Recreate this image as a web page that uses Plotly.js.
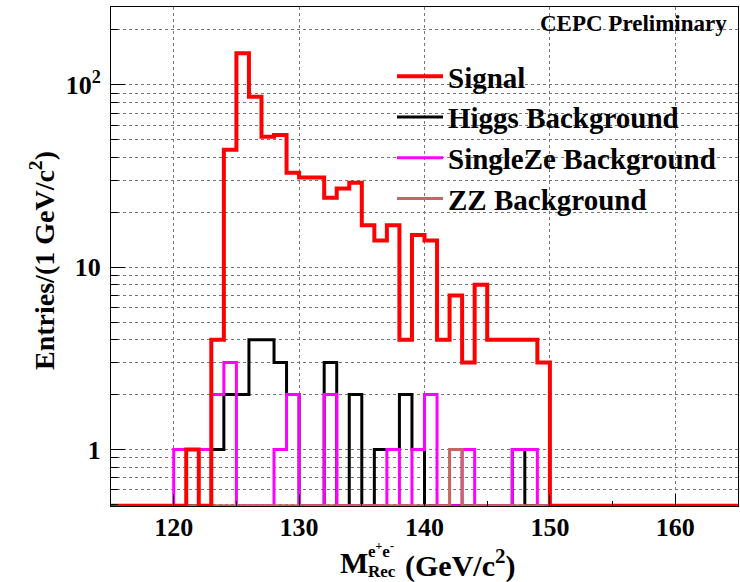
<!DOCTYPE html>
<html>
<head>
<meta charset="utf-8">
<script src="https://cdn.plot.ly/plotly-3.0.1.min.js"></script>
<style>
html,body{margin:0;padding:0;background:#fff;}
#chart{width:740px;height:582px;}
</style>
</head>
<body>
<div id="chart"></div>
<script>
// Bin lower edges 115 ... 164 (1 GeV bins), upper edge 165
const binStart = 115;
const binEnd = 165;

// Entries per 1 GeV bin, bins 115..164
const signal = [0,0,0,0,0,0, 1,0,4,44,149,86,52,53,33,31,31,24,27,29,17,14,17,4,15,14,4,7,3,8,4,4,4,4,3, 0,0,0,0,0,0,0,0,0,0,0,0,0,0,0];
const higgsBkg = [0,0,0,0,0,0,0,0, 1,2,2,4,4,3,2,0,0,3,0,2,0,1,1,2,1,0,0,0,0,0,0,0,1,0,0, 0,0,0,0,0,0,0,0,0,0,0,0,0,0,0];
const singleZeBkg = [0,0,0,0,0, 1,1,1,2,3,0,0,0,1,2,0,0,2,0,0,0,0,1,0,1,2,0,0,1,0,0,0,1,1,0, 0,0,0,0,0,0,0,0,0,0,0,0,0,0,0];
const zzBkg = [0,0,0,0,0,0,0,0,0,0,0,0,0,0,0,0,0,0,0,0,0,0,0,0,0,0,0,1,0,0,0,0,0,0,0, 0,0,0,0,0,0,0,0,0,0,0,0,0,0,0];

const seriesNames = ["Signal", "Higgs Background", "SingleZe Background", "ZZ Background"];
const xTickVals = [120, 130, 140, 150, 160];
const yTickVals = [1, 10, 100];
const yTickText = ["1", "10", "10<sup>2</sup>"];

const yLogMin = -0.31, yLogMax = 2.427;
const floorVal = Math.pow(10, yLogMin) * 1.002;

const edges = [];
for (let e = binStart; e <= binEnd; e++) edges.push(e);

function stepTrace(vals, name, color, width, rank) {
  const y = vals.map(v => v > 0 ? v : floorVal);
  y.push(y[y.length - 1]);
  return {
    type: 'scatter', mode: 'lines', x: edges, y: y, name: name,
    line: {shape: 'hv', color: color, width: width},
    legendrank: rank, hoverinfo: 'skip'
  };
}

const traces = [
  stepTrace(higgsBkg, seriesNames[1], '#000000', 3, 2),
  stepTrace(singleZeBkg, seriesNames[2], '#ff00ff', 3, 3),
  stepTrace(zzBkg, seriesNames[3], '#c86464', 3, 4),
  stepTrace(signal, seriesNames[0], '#ff0000', 4, 1)
];

const minorY = [];
[0.1, 1, 10, 100].forEach(d => { for (let k = 2; k <= 9; k++) minorY.push(k * d); });

const serif = 'Liberation Serif, Times New Roman, serif';
const W = 740, H = 582, L = 111, R = 2, T = 7, B = 76;
const pw = W - L - R, ph = H - T - B;
const px = x => (x - L) / pw;
const py = y => (H - B - y) / ph;

const layout = {
  width: W, height: H,
  margin: {l: L, r: R, t: T, b: B, pad: 0},
  paper_bgcolor: '#fff', plot_bgcolor: '#fff',
  showlegend: true,
  legend: {
    x: px(392), y: py(51), xanchor: 'left', yanchor: 'top',
    bgcolor: 'rgba(0,0,0,0)', borderwidth: 0,
    font: {family: serif, size: 29, weight: 'bold', color: '#000'},
    itemwidth: 46, tracegroupgap: 0
  },
  xaxis: {
    range: [binStart, binEnd], type: 'linear',
    tickmode: 'array', tickvals: xTickVals,
    ticks: 'inside', ticklen: 12, tickwidth: 1, tickcolor: '#000',
    showline: true, linecolor: '#000', linewidth: 1, mirror: true,
    showgrid: true, gridcolor: '#777', gridwidth: 1, griddash: 'dot',
    zeroline: false,
    tickfont: {family: serif, size: 26, weight: 'bold', color: '#000'},
    ticklabelstandoff: -2,
    minor: {tickmode: 'array', tickvals: [115,125,135,145,155,165], ticks: 'inside', ticklen: 5, tickcolor: '#000', showgrid: false}
  },
  yaxis: {
    type: 'log', range: [yLogMin, yLogMax],
    tickmode: 'array', tickvals: yTickVals, ticktext: yTickText,
    ticks: 'inside', ticklen: 14, tickwidth: 1, tickcolor: '#000',
    showline: true, linecolor: '#000', linewidth: 1, mirror: true,
    showgrid: true, gridcolor: '#777', gridwidth: 1, griddash: 'dot',
    zeroline: false,
    tickfont: {family: serif, size: 26, weight: 'bold', color: '#000'},
    ticklabelstandoff: 4,
    minor: {tickmode: 'array', tickvals: minorY, ticks: 'inside', ticklen: 7, tickcolor: '#000',
            showgrid: true, gridcolor: '#777', gridwidth: 1, griddash: 'dot'}
  },
  annotations: [
    {text: 'CEPC Preliminary', xref: 'paper', yref: 'paper', x: px(729), y: py(23),
     xanchor: 'right', yanchor: 'middle', showarrow: false,
     font: {family: serif, size: 23, weight: 'bold', color: '#000'}},
    {text: 'Entries/(1 GeV/c<sup>2</sup>)', xref: 'paper', yref: 'paper', x: px(42), y: py(261),
     xanchor: 'center', yanchor: 'middle', textangle: -90, showarrow: false,
     font: {family: serif, size: 28, weight: 'bold', color: '#000'}},
    {text: 'M', xref: 'paper', yref: 'paper', x: px(339), y: py(562),
     xanchor: 'left', yanchor: 'middle', showarrow: false, borderpad: 0,
     font: {family: serif, size: 30, weight: 'bold', color: '#000'}},
    {text: 'e<sup>+</sup>e<sup>-</sup>', xref: 'paper', yref: 'paper', x: px(367), y: py(550),
     xanchor: 'left', yanchor: 'middle', showarrow: false, borderpad: 0,
     font: {family: serif, size: 17, weight: 'bold', color: '#000'}},
    {text: 'Rec', xref: 'paper', yref: 'paper', x: px(367), y: py(571),
     xanchor: 'left', yanchor: 'middle', showarrow: false, borderpad: 0,
     font: {family: serif, size: 17, weight: 'bold', color: '#000'}},
    {text: '(GeV/c<sup>2</sup>)', xref: 'paper', yref: 'paper', x: px(404), y: py(563),
     xanchor: 'left', yanchor: 'middle', showarrow: false, borderpad: 0,
     font: {family: serif, size: 30, weight: 'bold', color: '#000'}}
  ]
};

Plotly.newPlot('chart', traces, layout, {staticPlot: true, displayModeBar: false});
</script>
</body>
</html>
